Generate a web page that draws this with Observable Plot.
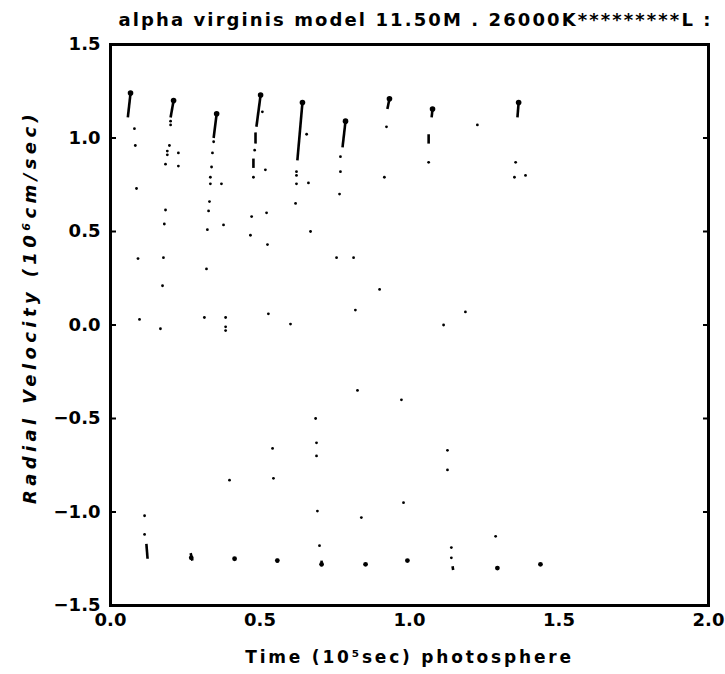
<!DOCTYPE html>
<html><head><meta charset="utf-8">
<script src="https://cdn.jsdelivr.net/npm/d3@7"></script>
<script src="https://cdn.jsdelivr.net/npm/@observablehq/plot@0.6"></script>
<style>
body{margin:0;background:#fff;}
</style>
</head><body><div id="chart"></div>
<script>
const titleText = "alpha virginis model 11.50M . 26000K*********L :";
const xLabel = "Time (10\u2075sec) photosphere";
const yLabel = "Radial Velocity (10\u2076cm/sec)";
const xTicks = [0, 0.5, 1.0, 1.5, 2.0];
const yTicks = [-1.5, -1.0, -0.5, 0.0, 0.5, 1.0, 1.5];

// streaks: dense runs of points (start t, start v, end t, end v)
const streakT1 = [0.067, 0.211, 0.355, 0.502, 0.642, 0.786, 0.933, 1.077, 1.365, 0.120, 0.268, 0.558, 0.706, 1.144, 1.064, 0.478, 0.485];
const streakV1 = [1.24, 1.20, 1.13, 1.23, 1.19, 1.09, 1.21, 1.155, 1.19, -1.17, -1.22, -1.25, -1.26, -1.29, 1.02, 0.89, 1.03];
const streakT2 = [0.058, 0.201, 0.345, 0.488, 0.625, 0.776, 0.926, 1.074, 1.361, 0.124, 0.274, 0.558, 0.706, 1.146, 1.064, 0.478, 0.485];
const streakV2 = [1.11, 1.11, 1.00, 1.06, 0.88, 0.95, 1.155, 1.11, 1.11, -1.25, -1.26, -1.27, -1.29, -1.31, 0.97, 0.84, 0.97];

// single points
const dotT = [0.080,0.083,0.087,0.092,
  0.201,0.201,0.197,0.190,0.190,0.227,0.184,0.227,0.184,0.180,0.177,
  0.345,0.341,0.338,0.334,0.334,0.371,0.331,0.328,0.324,0.378,
  0.508,0.482,0.478,0.518,0.522,0.472,0.468,0.525,
  0.656,0.622,0.622,0.622,0.662,0.619,0.669,
  0.769,0.769,0.766,0.756,0.813,
  0.923,0.916,1.064,1.227,1.355,1.351,1.388,
  0.321,0.174,0.097,0.314,0.385,0.385,0.385,0.167,0.528,0.602,0.900,0.819,0.826,0.973,0.686,0.689,0.689,0.542,1.187,1.114,1.127,1.127,
  0.545,0.398,0.692,0.980,0.114,0.114,0.699,0.839,1.140,1.140,1.288];
const dotV = [1.05,0.96,0.73,0.355,
  1.09,1.07,0.96,0.93,0.91,0.92,0.86,0.85,0.615,0.54,0.36,
  0.98,0.92,0.845,0.79,0.755,0.755,0.66,0.61,0.51,0.535,
  1.14,0.935,0.79,0.83,0.60,0.58,0.48,0.43,
  1.02,0.82,0.80,0.755,0.76,0.65,0.50,
  0.90,0.82,0.70,0.36,0.36,
  1.06,0.79,0.87,1.07,0.87,0.79,0.80,
  0.30,0.21,0.03,0.04,0.04,-0.01,-0.03,-0.02,0.06,0.005,0.19,0.08,-0.35,-0.40,-0.50,-0.63,-0.70,-0.66,0.07,0.0,-0.67,-0.775,
  -0.82,-0.83,-0.995,-0.95,-1.02,-1.12,-1.18,-1.03,-1.19,-1.245,-1.13];

// larger blobs
const blobT = [0.415, 0.853, 0.993, 1.294, 1.438, 0.558, 0.270, 0.706];
const blobV = [-1.25, -1.28, -1.26, -1.30, -1.28, -1.26, -1.245, -1.28];

const streaks = streakT1.map((t, i) => ({t1: t, v1: streakV1[i], t2: streakT2[i], v2: streakV2[i]}));
const dots = dotT.map((t, i) => ({t, v: dotV[i]}));
const blobs = blobT.map((t, i) => ({t, v: blobV[i]}));
const heads = streaks.slice(0, 9);

const fmt = d3.format(".1f");

const chart = Plot.plot({
  width: 725, height: 674,
  marginTop: 44, marginRight: 17, marginBottom: 69, marginLeft: 110,
  x: {domain: [0, 2]},
  y: {domain: [-1.5, 1.5]},
  style: {fontFamily: "'DejaVu Sans', sans-serif", fontWeight: "bold", fontSize: "18px", color: "black", background: "white"},
  marks: [
    Plot.axisX({ticks: xTicks, tickSize: 0, tickPadding: 8, tickFormat: fmt, label: null}),
    Plot.axisY({ticks: yTicks, tickSize: 0, tickPadding: 10, tickFormat: fmt, label: null}),
    Plot.axisY({ticks: yTicks, anchor: "left", tickSize: 6, dx: 6, strokeWidth: 2, tickFormat: () => "", label: null}),
    Plot.axisY({ticks: yTicks, anchor: "right", tickSize: 6, dx: -6, strokeWidth: 2, tickFormat: () => "", label: null}),
    Plot.frame({strokeWidth: 3, stroke: "black"}),
    Plot.link(streaks, {x1: "t1", y1: "v1", x2: "t2", y2: "v2", stroke: "black", strokeWidth: 2.6}),
    Plot.dot(heads, {x: "t1", y: "v1", r: 2.8, fill: "black"}),
    Plot.dot(dots, {x: "t", y: "v", r: 1.4, fill: "black"}),
    Plot.dot(blobs, {x: "t", y: "v", r: 2.4, fill: "black"}),
    Plot.text([titleText], {frameAnchor: "top-left", textAnchor: "start", dx: 8, dy: -31, fontSize: 18, fontWeight: "bold"}),
    Plot.text([xLabel], {frameAnchor: "bottom", textAnchor: "middle", dy: 57, fontSize: 17, fontWeight: "bold"}),
    Plot.text([yLabel], {frameAnchor: "left", textAnchor: "middle", dx: -80, dy: -18, rotate: -90, fontSize: 18, fontWeight: "bold", fontStyle: "italic"})
  ]
});
const sp = {[titleText]: "2.1px", [xLabel]: "2.8px", [yLabel]: "4.4px"};
d3.select(chart).selectAll("text").each(function() {
  const s = sp[this.textContent];
  if (s) this.style.letterSpacing = s;
});
document.getElementById("chart").append(chart);
</script>
</body></html>
